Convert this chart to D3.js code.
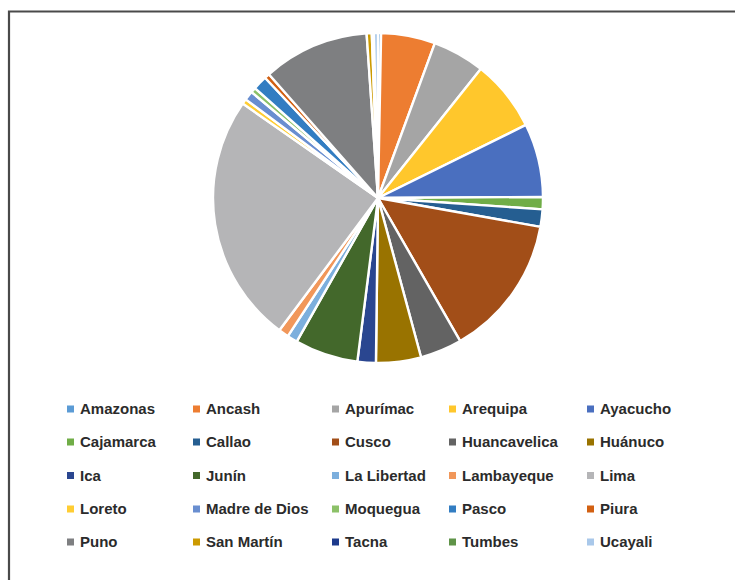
<!DOCTYPE html>
<html>
<head>
<meta charset="utf-8">
<script src="https://cdn.jsdelivr.net/npm/d3@7"></script>
<style>
  html, body { margin: 0; padding: 0; background: #ffffff; }
  svg { display: block; }
</style>
</head>
<body>
<svg id="chart" width="735" height="580"></svg>
<script>
// Share of each region (percent), in legend order
const regions = [
  "Amazonas", "Ancash", "Apurímac", "Arequipa", "Ayacucho",
  "Cajamarca", "Callao", "Cusco", "Huancavelica", "Huánuco",
  "Ica", "Junín", "La Libertad", "Lambayeque", "Lima",
  "Loreto", "Madre de Dios", "Moquegua", "Pasco", "Piura",
  "Puno", "San Martín", "Tacna", "Tumbes", "Ucayali"
];
const shares = [
  0.3, 5.3, 5.1, 7.0, 7.2,
  1.2, 1.7, 13.9, 4.1, 4.4,
  1.8, 6.2, 1.0, 1.0, 24.5,
  0.5, 0.9, 0.5, 1.4, 0.5,
  10.4, 0.5, 0.1, 0.1, 0.4
];
const palette = [
  "#5B9BD5", "#ED7D31", "#A5A5A5", "#FFC72C", "#4A6FBF",
  "#70AD47", "#255E91", "#A24E18", "#636363", "#997300",
  "#2A4690", "#43682B", "#7CAFDD", "#F1975A", "#B5B5B7",
  "#FFCD33", "#698ED0", "#8CC168", "#327DC2", "#D26012",
  "#7E7F81", "#CC9A00", "#1C3A8C", "#5F9348", "#A9C8EA"
];

const data = regions.map((name, i) => ({ name, value: shares[i] }));
const color = d3.scaleOrdinal().domain(regions).range(palette);

const svg = d3.select("#chart");

// Frame (top and left edges)
svg.append("path")
  .attr("d", "M9,580 V11.5 H735")
  .attr("fill", "none")
  .attr("stroke", "#4a4a4a")
  .attr("stroke-width", 2.2);

// Pie
const cx = 378, cy = 198, radius = 165;
const pie = d3.pie().value(d => d.value).sort(null);
const arc = d3.arc().innerRadius(0).outerRadius(radius);

svg.append("g")
  .attr("transform", `translate(${cx},${cy})`)
  .selectAll("path")
  .data(pie(data))
  .join("path")
  .attr("d", arc)
  .attr("fill", d => color(d.data.name))
  .attr("stroke", "#ffffff")
  .attr("stroke-width", 2.4)
  .attr("stroke-linejoin", "round");

// Legend: five columns, five rows
const colText = [80, 206, 345, 462, 600];
const rowY = [409, 442, 475.5, 509, 542];

const legend = svg.append("g")
  .selectAll("g")
  .data(regions)
  .join("g")
  .attr("transform", (d, i) => `translate(${colText[i % 5]},${rowY[Math.floor(i / 5)]})`);

legend.append("rect")
  .attr("x", -13)
  .attr("y", -3.5)
  .attr("width", 7)
  .attr("height", 7)
  .attr("fill", d => color(d));

legend.append("text")
  .attr("x", 0)
  .attr("y", 0)
  .attr("dy", "0.36em")
  .attr("font-family", "Liberation Sans, Arial, sans-serif")
  .attr("font-size", 15)
  .attr("font-weight", "bold")
  .attr("fill", "#2b2b2b")
  .text(d => d);
</script>
</body>
</html>
